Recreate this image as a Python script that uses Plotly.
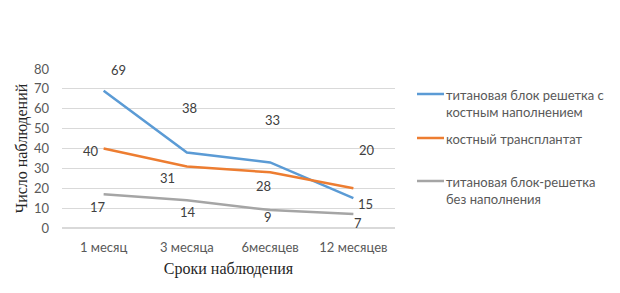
import plotly.graph_objects as go

categories = ["1 месяц", "3 месяца", "6месяцев", "12 месяцев"]
series_names = ["титановая блок решетка с<br>костным наполнением",
                "костный трансплантат",
                "титановая блок-решетка<br>без наполнения"]
blue_vals = [69, 38, 33, 15]
orange_vals = [40, 31, 28, 20]
gray_vals = [17, 14, 9, 7]
y_ticks = [0, 10, 20, 30, 40, 50, 60, 70, 80]

colors = ["#5B9BD5", "#ED7D31", "#A5A5A5"]
# label pixel offsets (dx, dy screen; positive dy = up)
label_offsets = [
    [(15, 21), (3, 44), (2, 42), (12, -6)],
    [(-13, -2), (-19, -12), (-7, -14), (14, 38)],
    [(-6, -13), (1, -12), (-2, -7), (5, -9)],
]

fig = go.Figure()
all_vals = [blue_vals, orange_vals, gray_vals]
for vals, col in zip(all_vals, colors):
    fig.add_trace(go.Scatter(x=categories, y=vals, mode="lines",
                             line=dict(color=col, width=2.5), showlegend=False,
                             hoverinfo="skip"))

for vals, offs in zip(all_vals, label_offsets):
    for c, v, (dx, dy) in zip(categories, vals, offs):
        fig.add_annotation(x=c, y=v, text=str(v), showarrow=False,
                           xshift=dx, yshift=dy,
                           font=dict(family="Lato, sans-serif", size=13, color="#404040"))

# manual legend (pixel positions converted to paper coords)
L, R, T, B = 62, 225, 69, 65
PW, PH = 620 - L - R, 293 - T - B
leg_y = [94, 138, 181]  # pixel centers of first text line
for name, col, yp in zip(series_names, colors, leg_y):
    fig.add_shape(type="line", xref="paper", yref="paper",
                  x0=(417 - L) / PW, x1=(444 - L) / PW,
                  y0=(293 - B - yp) / PH, y1=(293 - B - yp) / PH,
                  line=dict(color=col, width=2.5))
    fig.add_annotation(xref="paper", yref="paper", x=(444 - L) / PW,
                       y=(293 - B - yp + 9) / PH,
                       xanchor="left", yanchor="top", align="left", showarrow=False,
                       text=name,
                       font=dict(family="Lato, sans-serif", size=13, color="#595959"))

fig.update_layout(
    width=620, height=293,
    margin=dict(l=L, r=R, t=T, b=B),
    paper_bgcolor="white", plot_bgcolor="white",
    showlegend=False,
    xaxis=dict(type="category", range=[-0.5, 3.5], showgrid=False, showline=False,
               automargin=False, ticks="", ticklabelstandoff=10,
               tickfont=dict(family="Lato, sans-serif", size=13, color="#595959"),
               title=dict(text="Сроки наблюдения", standoff=8,
                          font=dict(family="Liberation Serif, serif", size=16, color="#262626"))),
    yaxis=dict(range=[0, 80], tickvals=y_ticks, showgrid=True, gridcolor="#D9D9D9",
               gridwidth=1, zeroline=True, zerolinecolor="#D9D9D9", showline=False,
               automargin=False, ticks="", ticklabelstandoff=12,
               tickfont=dict(family="Lato, sans-serif", size=13, color="#595959"),
               title=dict(text="Число наблюдений", standoff=2,
                          font=dict(family="Liberation Serif, serif", size=16, color="#262626"))),
)
fig.write_html("out.html", config={"displayModeBar": False},
               post_script="document.body.style.margin='0';")
